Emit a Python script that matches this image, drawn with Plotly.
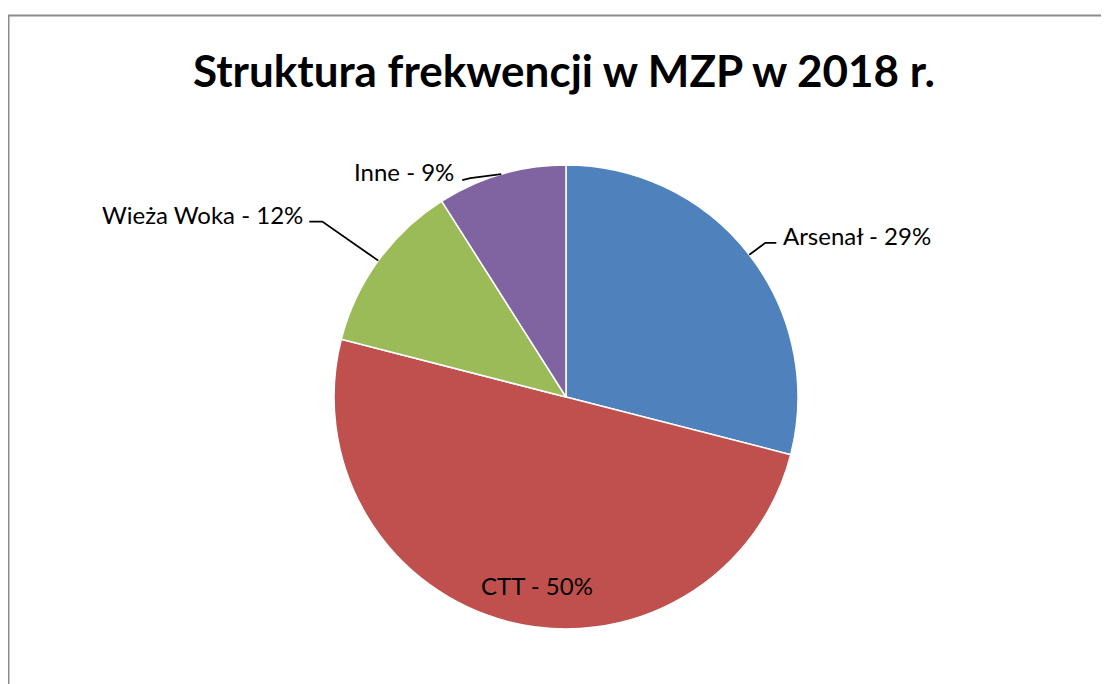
import math
import plotly.graph_objects as go

# ---- data ----
labels = ["Arsenał", "CTT", "Wieża Woka", "Inne"]
values = [29, 50, 12, 9]
colors = ["#4F81BD", "#C0504D", "#9BBB59", "#8064A2"]
title_text = "Struktura frekwencji w MZP w 2018 r."

# ---- geometry (pixels in the window; page body has an 8px margin) ----
OFF = 8
W, H = 1109 - OFF, 684 - OFF
CX, CY, R = 566, 397, 232
FONT = "Lato, 'Open Sans', sans-serif"


def px(x):
    return (x - OFF) / W


def py(y):
    return 1 - (y - OFF) / H


total = sum(values)
mids = []
cum = 0
for v in values:
    mids.append((cum + v / 2) / total * 360)
    cum += v

# label placement styles: (kind, radius factor, elbow offset, line end offset, text offset, anchor)
styles = [
    ("out", 1.0, (16, -12), (27, -12), (32, -19), "left"),
    ("in", 0.82, None, None, (18, 4), "center"),
    ("out", 1.0, (-56, -39), (-69, -39), (-73, -46), "right"),
    ("out", 1.0, (-31, 4), (-39, 6), (-45, -3), "right"),
]

fig = go.Figure(
    go.Pie(
        labels=labels,
        values=values,
        marker=dict(colors=colors, line=dict(color="white", width=1.5)),
        sort=False,
        direction="clockwise",
        rotation=0,
        textinfo="none",
        hoverinfo="label+percent",
        showlegend=False,
        domain=dict(x=[px(CX - R), px(CX + R)], y=[py(CY + R), py(CY - R)]),
    )
)

shapes = [
    dict(
        type="rect", xref="paper", yref="paper",
        x0=px(8.5), x1=1.02, y0=-0.02, y1=py(15.5),
        line=dict(color="#8c8c8c", width=2), fillcolor="rgba(0,0,0,0)",
        layer="below",
    )
]
annotations = []
for lab, v, ang, st in zip(labels, values, mids, styles):
    kind, rf, elbow, lend, toff, anchor = st
    a = math.radians(ang)
    ex = CX + R * rf * math.sin(a)
    ey = CY - R * rf * math.cos(a)
    pct = round(v / total * 100)
    if kind == "out":
        path = "M {} {} L {} {} L {} {}".format(
            px(ex), py(ey),
            px(ex + elbow[0]), py(ey + elbow[1]),
            px(ex + lend[0]), py(ey + lend[1]),
        )
        shapes.append(dict(type="path", xref="paper", yref="paper", path=path,
                           line=dict(color="black", width=1.8)))
    annotations.append(dict(
        x=px(ex + toff[0]), y=py(ey + toff[1]), xref="paper", yref="paper",
        text=f"{lab} - {pct}%", showarrow=False,
        xanchor=anchor, yanchor="middle",
        font=dict(family=FONT, size=24, color="black"),
    ))

annotations.append(dict(
    x=px(564), y=py(70), xref="paper", yref="paper",
    text="<b>" + title_text + "</b>", showarrow=False,
    xanchor="center", yanchor="middle",
    font=dict(family=FONT, size=44, color="black"),
))

fig.update_layout(
    width=W, height=H,
    margin=dict(l=0, r=0, t=0, b=0),
    paper_bgcolor="white",
    plot_bgcolor="white",
    shapes=shapes,
    annotations=annotations,
)

fig.write_html("out.html")
